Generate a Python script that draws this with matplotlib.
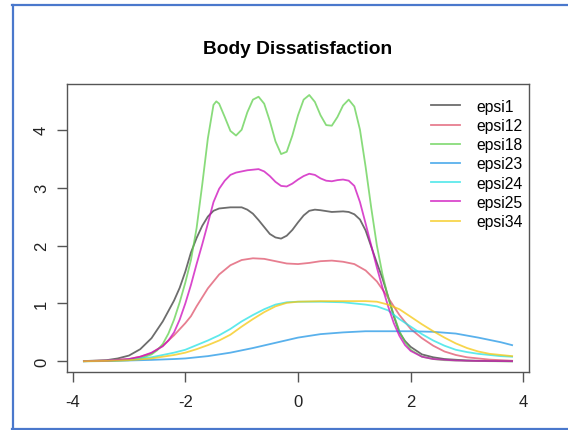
import matplotlib
matplotlib.use("Agg")
import matplotlib.pyplot as plt
from matplotlib.lines import Line2D

plt.rcParams['font.family'] = ['Liberation Sans', 'DejaVu Sans']
plt.rcParams['axes.unicode_minus'] = False

# density curves
x_epsi1 = [-3.8, -3.4, -3.2, -3.0, -2.8, -2.6, -2.4, -2.2, -2.1, -2.0, -1.9, -1.8, -1.7, -1.6,
           -1.5, -1.4, -1.2, -1.0, -0.9, -0.8, -0.7, -0.6, -0.5, -0.4, -0.3, -0.2, -0.1, 0.0,
           0.1, 0.2, 0.3, 0.4, 0.6, 0.8, 0.9, 1.0, 1.1, 1.2, 1.3, 1.4, 1.5, 1.6, 1.7, 1.8,
           1.9, 2.0, 2.2, 2.4, 2.6, 3.0, 3.4, 3.8]
y_epsi1 = [0.005, 0.02, 0.05, 0.1, 0.21, 0.4, 0.69, 1.05, 1.27, 1.55, 1.88, 2.13, 2.34, 2.5,
           2.6, 2.64, 2.66, 2.66, 2.62, 2.55, 2.44, 2.32, 2.2, 2.14, 2.12, 2.17, 2.27, 2.4,
           2.52, 2.6, 2.62, 2.61, 2.58, 2.59, 2.58, 2.54, 2.45, 2.26, 1.98, 1.7, 1.43, 1.12, 0.78, 0.5,
           0.35, 0.25, 0.12, 0.07, 0.04, 0.015, 0.005, 0.002]

x_epsi12 = [-3.8, -3.4, -3.0, -2.8, -2.6, -2.4, -2.2, -2.0, -1.9, -1.8, -1.6, -1.4, -1.2, -1.0,
            -0.8, -0.6, -0.4, -0.2, 0.0, 0.2, 0.4, 0.6, 0.8, 1.0, 1.2, 1.4, 1.6, 1.8, 2.0,
            2.2, 2.4, 2.6, 2.8, 3.0, 3.4, 3.8]
y_epsi12 = [0.003, 0.015, 0.04, 0.08, 0.14, 0.27, 0.45, 0.66, 0.78, 0.95, 1.26, 1.5, 1.66, 1.75,
            1.78, 1.77, 1.73, 1.69, 1.68, 1.7, 1.73, 1.74, 1.72, 1.68, 1.57, 1.38, 1.1, 0.8, 0.56,
            0.4, 0.27, 0.17, 0.11, 0.07, 0.03, 0.01]

x_epsi18 = [-3.8, -3.4, -3.0, -2.8, -2.6, -2.5, -2.4, -2.3, -2.2, -2.1, -2.0, -1.9, -1.8, -1.7,
            -1.6, -1.5, -1.45, -1.4, -1.3, -1.2, -1.1, -1.0, -0.9, -0.8, -0.7, -0.6, -0.5, -0.4,
            -0.3, -0.2, -0.1, 0.0, 0.1, 0.2, 0.3, 0.4, 0.5, 0.6, 0.7, 0.8, 0.9, 1.0, 1.1, 1.2,
            1.3, 1.4, 1.5, 1.6, 1.7, 1.8, 1.9, 2.0, 2.2, 2.4, 2.6, 3.0, 3.4, 3.8]
y_epsi18 = [0.0, 0.005, 0.02, 0.05, 0.12, 0.19, 0.3, 0.48, 0.72, 1.02, 1.36, 1.75, 2.3, 3.05,
            3.85, 4.43, 4.49, 4.45, 4.22, 3.98, 3.9, 4.0, 4.3, 4.52, 4.57, 4.45, 4.15, 3.8,
            3.58, 3.62, 3.9, 4.25, 4.52, 4.6, 4.48, 4.25, 4.08, 4.07, 4.22, 4.42, 4.52, 4.4, 4.0, 3.36,
            2.65, 2.0, 1.5, 1.1, 0.8, 0.52, 0.33, 0.2, 0.08, 0.04, 0.02, 0.01, 0.003, 0.0]

x_epsi23 = [-3.8, -3.4, -3.0, -2.6, -2.2, -2.0, -1.6, -1.2, -0.8, -0.4, 0.0, 0.4, 0.8, 1.2,
            1.6, 2.0, 2.4, 2.8, 3.2, 3.6, 3.8]
y_epsi23 = [0.003, 0.008, 0.015, 0.025, 0.04, 0.05, 0.09, 0.15, 0.23, 0.32, 0.41, 0.47, 0.5, 0.52,
            0.52, 0.52, 0.51, 0.48, 0.41, 0.33, 0.28]

x_epsi24 = [-3.8, -3.4, -3.0, -2.6, -2.2, -2.0, -1.8, -1.6, -1.4, -1.2, -1.0, -0.8, -0.6, -0.4,
            -0.2, 0.0, 0.4, 0.8, 1.0, 1.2, 1.4, 1.6, 1.8, 2.0, 2.2, 2.4, 2.6, 2.8, 3.0, 3.2,
            3.4, 3.6, 3.8]
y_epsi24 = [0.003, 0.01, 0.03, 0.07, 0.15, 0.2, 0.28, 0.36, 0.45, 0.56, 0.69, 0.8, 0.9, 0.98,
            1.02, 1.03, 1.03, 1.02, 1.0, 0.98, 0.95, 0.88, 0.73, 0.6, 0.47, 0.36, 0.27, 0.2, 0.16, 0.13,
            0.11, 0.09, 0.08]

x_epsi25 = [-3.8, -3.4, -3.0, -2.8, -2.6, -2.4, -2.3, -2.2, -2.1, -2.0, -1.9, -1.8, -1.7, -1.6,
            -1.5, -1.4, -1.3, -1.2, -1.1, -1.0, -0.9, -0.8, -0.7, -0.6, -0.5, -0.4, -0.3, -0.2,
            -0.1, 0.0, 0.1, 0.2, 0.3, 0.4, 0.5, 0.6, 0.7, 0.8, 0.9, 1.0, 1.1, 1.2, 1.3, 1.4,
            1.5, 1.6, 1.7, 1.8, 1.9, 2.0, 2.2, 2.4, 2.8, 3.2, 3.8]
y_epsi25 = [0.003, 0.01, 0.04, 0.08, 0.15, 0.26, 0.36, 0.5, 0.72, 1.0, 1.32, 1.68, 2.02, 2.38,
            2.75, 2.98, 3.12, 3.22, 3.26, 3.28, 3.3, 3.31, 3.32, 3.28, 3.2, 3.1, 3.03, 3.02,
            3.07, 3.14, 3.2, 3.24, 3.22, 3.16, 3.12, 3.11, 3.13, 3.14, 3.12, 3.03, 2.75, 2.38, 2.0, 1.62,
            1.27, 0.95, 0.66, 0.44, 0.28, 0.18, 0.08, 0.04, 0.015, 0.007, 0.003]

x_epsi34 = [-3.8, -3.4, -3.0, -2.6, -2.2, -2.0, -1.8, -1.6, -1.4, -1.2, -1.0, -0.8, -0.6, -0.4,
            -0.2, 0.0, 0.4, 0.8, 1.2, 1.4, 1.6, 1.8, 2.0, 2.2, 2.4, 2.6, 2.8, 3.0, 3.2, 3.4,
            3.6, 3.8]
y_epsi34 = [0.003, 0.008, 0.02, 0.05, 0.11, 0.15, 0.21, 0.28, 0.36, 0.46, 0.6, 0.73, 0.85, 0.95,
            1.01, 1.03, 1.04, 1.04, 1.04, 1.03, 0.98, 0.9, 0.77, 0.64, 0.52, 0.41, 0.31, 0.23, 0.17, 0.13,
            0.11, 0.09]

series = [
    ('epsi1', x_epsi1, y_epsi1, '#3c3c3c'),
    ('epsi12', x_epsi12, y_epsi12, '#DF536B'),
    ('epsi18', x_epsi18, y_epsi18, '#61D04F'),
    ('epsi23', x_epsi23, y_epsi23, '#2297E6'),
    ('epsi24', x_epsi24, y_epsi24, '#28E2E5'),
    ('epsi25', x_epsi25, y_epsi25, '#CD0BBC'),
    ('epsi34', x_epsi34, y_epsi34, '#F5C710'),
]

fig = plt.figure(figsize=(5.68, 4.31), dpi=100)
ax = fig.add_axes([67 / 568, 1 - 373 / 431, (529 - 67) / 568, (373 - 85) / 431])

for name, xs, ys, col in series:
    ax.plot(xs, ys, color=col, lw=1.3, alpha=0.75, label=name)

ax.set_xlim(-4.1, 4.1)
ax.set_ylim(-0.184, 4.79)
ax.set_xticks([-4, -2, 0, 2, 4])
ax.set_yticks([0, 1, 2, 3, 4])
for sp in ax.spines.values():
    sp.set_color('#555555')
    sp.set_linewidth(1.0)
ax.tick_params(colors='#555555', labelcolor='#222222', labelsize=12, length=7, width=1.0)
ax.tick_params(axis='x', pad=9)
ax.tick_params(axis='y', pad=6)
for lbl in ax.get_yticklabels():
    lbl.set_rotation(90)
    lbl.set_va('center')

ax.legend(loc='upper right', bbox_to_anchor=(1.015, 0.995), frameon=False, fontsize=11.3,
          handlelength=1.85, handletextpad=1.0, labelspacing=0.27, borderaxespad=0.45)

fig.text(298 / 568, 1 - 53.5 / 431, 'Body Dissatisfaction', ha='center', va='baseline',
         fontsize=13.8, fontweight='bold')

# blue screenshot frame
frame = '#4a78cc'
fig.add_artist(Line2D([13 / 568, 13 / 568], [1 - 5.5 / 431, 1 - 429.5 / 431], color=frame, lw=1.6))
fig.add_artist(Line2D([12 / 568, 1.0], [1 - 5.5 / 431, 1 - 5.5 / 431], color=frame, lw=1.6))
fig.add_artist(Line2D([12 / 568, 1.0], [1 - 429.5 / 431, 1 - 429.5 / 431], color=frame, lw=1.6))

fig.savefig('out.png', dpi=100)
